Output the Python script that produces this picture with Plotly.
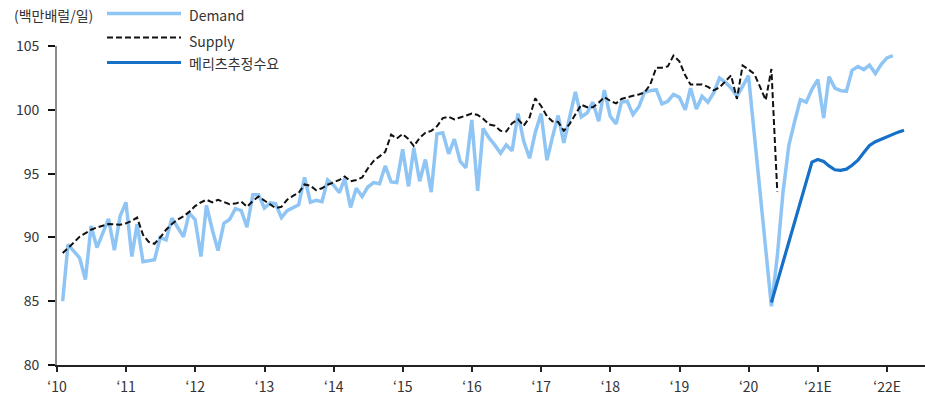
import pandas as pd
import plotly.graph_objects as go

# ---- data (million barrels per day, monthly from Jan 2010) ----
unit_label = "(백만배럴/일)"
series_names = ["Demand", "Supply", "메리츠추정수요"]

tick_years = list(range(2010, 2023))
tick_labels = ["‘10", "‘11", "‘12", "‘13", "‘14", "‘15", "‘16", "‘17",
               "‘18", "‘19", "‘20", "‘21E", "‘22E"]

demand = [
    85.0, 89.45, None, 88.4, 86.7, 90.9, 89.2, None, 91.45, 89.0, 91.65, 92.75,   # 2010
    88.5, 91.05, 88.1, 88.2, 88.25, 90.0, 89.8, 91.5, None, 90.05, 91.9, 91.4,    # 2011
    88.5, 92.5, 90.6, 88.97, 91.1, 91.4, 92.25, 92.1, 90.8, 93.35, 93.35, 92.3,   # 2012
    92.7, 92.65, 91.55, 92.1, None, 92.55, 94.7, 92.75, 92.9, 92.8, 94.5, 94.1,   # 2013
    93.5, 94.6, 92.35, 93.85, 93.2, 93.95, 94.3, 94.2, 95.6, 94.35, 94.3, 96.9,   # 2014
    94.0, 97.0, 94.4, 96.1, 93.55, 98.1, 98.2, 96.55, 97.7, 95.95, 95.45, 99.2,   # 2015
    93.65, 98.55, 97.8, 97.25, 96.6, 97.25, 96.8, 99.7, 97.55, 96.2, 98.2, 99.7,  # 2016
    96.05, 97.8, 99.55, 97.4, None, 101.4, 99.45, 99.75, 100.6, 99.1, 101.55, 99.5,  # 2017
    98.9, 100.6, 100.67, 99.62, 100.23, 101.38, 101.5, 101.58, 100.46, 100.67, 101.2, 100.98,  # 2018
    100.0, 101.7, 100.06, 101.06, 100.59, 101.32, 102.5, 102.16, 101.71, 101.06, 101.84, 102.68,  # 2019
    None, None, None, 84.6, 88.5, 93.5, 97.2, 99.1, 100.8, 100.6, 101.6, 102.37,  # 2020
    99.36, 102.6, 101.7, 101.5, 101.45, 103.1, 103.4, 103.15, 103.5, 102.84, 103.55, 104.07,  # 2021
    104.25,                                                                        # 2022
]

supply = [
    88.77, 89.2, 89.6, 90.05, 90.35, 90.6, 90.78, 90.9, 91.04, 91.02, 91.0, 91.1,
    91.3, 91.55, 90.2, 89.65, 89.5, 90.0, 90.6, 91.05, 91.4, 91.65, 92.0, 92.45,
    92.75, 92.95, 92.75, 92.95, 92.8, 92.6, 92.65, 92.8, 92.4, 92.85, 93.2, 92.9,
    92.6, 92.3, 92.4, 92.95, 93.25, 93.5, 94.15, 94.05, 93.7, 93.85, 94.13, 94.3,
    94.5, 94.77, 94.4, 94.5, 94.7, 95.4, 96.0, 96.35, 96.7, 98.05, 97.75, 98.1,
    97.7, 97.15, 97.8, 98.2, 98.35, 98.7, 99.35, 99.45, 99.25, 99.4, 99.55, 99.7,
    99.6, 99.3, 98.85, 98.75, 98.35, 98.3, 98.95, 99.25, 98.75, 99.4, 100.9, 100.3,
    99.5, 99.1, 99.05, 98.35, 98.9, 99.6, 100.4, 100.2, 100.2, 100.55, 101.0, 100.7,
    100.5, 100.85, 101.0, 101.1, 101.2, 101.35, 102.0, 103.3, 103.3, 103.4, 104.25, 103.8,
    102.7, 101.98, 101.98, 101.98, 101.8, 101.53, 101.75, 102.2, 102.7, 100.85, 103.47, 103.16,
    102.8, 101.84, 100.76, 103.2, 93.6,
]

# Meritz demand estimate, monthly from Apr 2020
meritz_start = "2020-04-01"
meritz = [
    84.9, None, None, None, None, None, None, 95.9, 96.1,
    95.95, 95.6, 95.3, 95.25, 95.35, 95.65, 96.05, 96.65, 97.2, 97.5, 97.7, 97.9,
    98.1, 98.25, 98.4,
]


def month_ends(start, n):
    """Monthly observations dated at the end of each month."""
    return pd.date_range(start, periods=n, freq="MS") + pd.offsets.MonthEnd(0)


demand_x = month_ends("2010-01-01", len(demand))
supply_x = month_ends("2010-01-01", len(supply))
meritz_x = month_ends(meritz_start, len(meritz))

LIGHT_BLUE = "#8fc5f4"
DARK_BLUE = "#1670c8"
TEXT = "#333333"
FONT = "Noto Sans CJK KR"
SUPPLY_LINE = dict(color="#111111", width=2, dash="6px,3px")

fig = go.Figure()
fig.add_trace(go.Scatter(x=demand_x, y=demand, mode="lines", name=series_names[0],
                         connectgaps=True,
                         line=dict(color=LIGHT_BLUE, width=3.5)))
fig.add_trace(go.Scatter(x=supply_x, y=supply, mode="lines", name=series_names[1],
                         line=SUPPLY_LINE))
fig.add_trace(go.Scatter(x=meritz_x, y=meritz, mode="lines", name=series_names[2],
                         connectgaps=True,
                         line=dict(color=DARK_BLUE, width=3.2)))

# ---- layout geometry (pixels) ----
W, H = 925, 399
ML, MR, MT, MB = 57, 0, 46, 34
PW, PH = W - ML - MR, H - MT - MB


def px(x):
    return (x - ML) / PW


def py(y):
    return (H - MB - y) / PH


# legend drawn as sample lines + labels at the top
legend_rows = [
    (series_names[0], 13.5, 15, dict(color=LIGHT_BLUE, width=3.5)),
    (series_names[1], 37.5, 41, SUPPLY_LINE),
    (series_names[2], 62.5, 62.5, dict(color=DARK_BLUE, width=3.2)),
]
shapes = []
annotations = []
for name, ly, ty, style in legend_rows:
    shapes.append(dict(type="line", xref="paper", yref="paper",
                       x0=px(107), x1=px(181), y0=py(ly), y1=py(ly), line=style))
    annotations.append(dict(text=name, xref="paper", yref="paper",
                            x=px(187), y=py(ty), xanchor="left", yanchor="middle",
                            showarrow=False, font=dict(size=14, color=TEXT, family=FONT)))

annotations.append(dict(text=unit_label, xref="paper", yref="paper",
                        x=px(12), y=py(15), xanchor="left", yanchor="middle",
                        showarrow=False, font=dict(size=14, color=TEXT, family=FONT)))

fig.update_layout(
    width=W, height=H,
    margin=dict(l=ML, r=MR, t=MT, b=MB, pad=0),
    paper_bgcolor="white", plot_bgcolor="white",
    showlegend=False,
    font=dict(family=FONT, size=14, color=TEXT),
    shapes=shapes, annotations=annotations,
)

fig.update_xaxes(
    type="date",
    range=["2010-01-01", "2022-07-20"],
    tickmode="array",
    tickvals=[f"{y}-01-01" for y in tick_years],
    ticktext=tick_labels,
    showgrid=False, zeroline=False,
    showline=True, linecolor="#222222", linewidth=1.5,
    ticks="outside", ticklen=5, tickwidth=1.5, tickcolor="#222222",
    ticklabelstandoff=3,
    tickfont=dict(size=14, color=TEXT, family=FONT),
)
fig.update_yaxes(
    range=[80, 105],
    tickmode="array", tickvals=[80, 85, 90, 95, 100, 105],
    showgrid=False, zeroline=False,
    showline=True, linecolor="#8c8c8c", linewidth=2,
    ticks="outside", ticklen=7, tickwidth=2, tickcolor="#111111",
    ticklabelstandoff=6,
    tickfont=dict(size=14, color=TEXT, family=FONT),
)

fig.write_html("out.html")
